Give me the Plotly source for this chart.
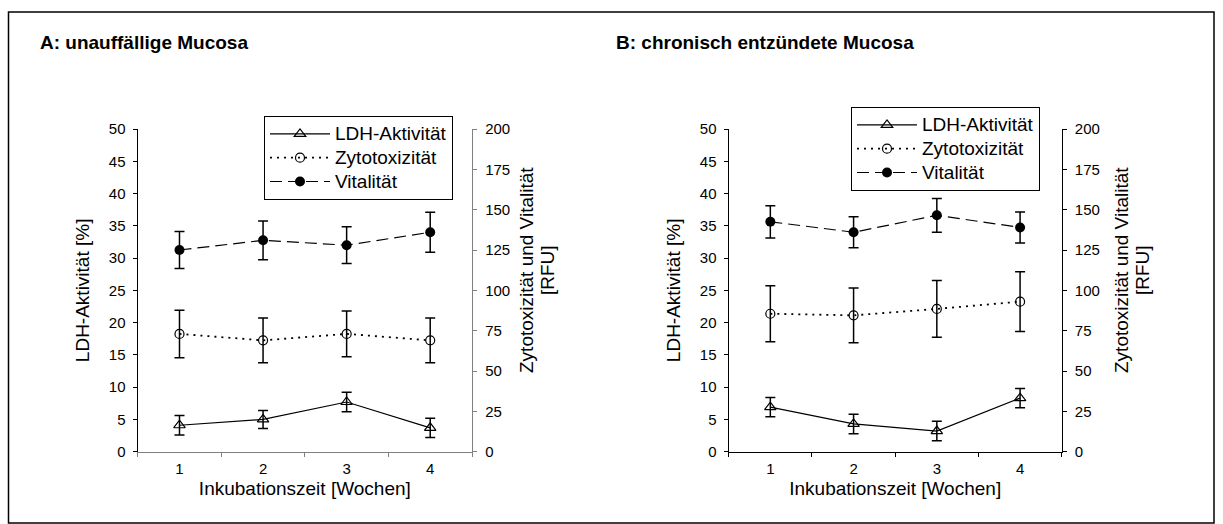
import plotly.graph_objects as go

W, H = 1223, 524

weeks = ["1", "2", "3", "4"]

# Panel A: unauffällige Mucosa
ldh_a = [4.1, 5.0, 7.7, 3.7]
ldh_a_err = [1.5, 1.4, 1.5, 1.5]
zyto_a = [73, 69, 73, 69]
zyto_a_err = [14.7, 13.8, 14.2, 13.8]
vital_a = [125, 131, 128, 136]
vital_a_err = [11.5, 12.0, 11.4, 12.4]

# Panel B: chronisch entzündete Mucosa
ldh_b = [6.9, 4.3, 3.2, 8.3]
ldh_b_err = [1.5, 1.5, 1.5, 1.5]
zyto_b = [85.5, 84.5, 88.5, 93.0]
zyto_b_err = [17.3, 17.0, 17.6, 18.5]
vital_b = [142.5, 136.0, 146.5, 139.0]
vital_b_err = [10.0, 9.6, 10.5, 9.6]

series_names = ["LDH-Aktivität", "Zytotoxizität", "Vitalität"]
x_title = "Inkubationszeit [Wochen]"
y_left_title = "LDH-Aktivität [%]"
y_right_title = ["Zytotoxizität und Vitalität", "[RFU]"]
panel_titles = ["A: unauffällige Mucosa", "B: chronisch entzündete Mucosa"]

FONT = "Liberation Sans, Arial, sans-serif"

def px_x(p):
    return p / W

def px_y(p):
    return 1 - p / H

def leg_name(s):
    return '<span style="font-size:19px">' + s + '</span>'

fig = go.Figure()

def add_panel(xa, yl, yr, leg, ldh, ldh_err, zy, zy_err, vi, vi_err):
    fig.add_trace(go.Scatter(
        x=weeks, y=ldh, xaxis=xa, yaxis=yl, legend=leg, name=leg_name(series_names[0]),
        mode="lines+markers",
        line=dict(color="black", width=1.2, dash="solid"),
        marker=dict(symbol="triangle-up-open", size=10, color="black", line=dict(width=1.2)),
        error_y=dict(type="data", array=ldh_err, visible=True, color="black", thickness=1.5, width=5),
    ))
    fig.add_trace(go.Scatter(
        x=weeks, y=zy, xaxis=xa, yaxis=yr, legend=leg, name=leg_name(series_names[1]),
        mode="lines+markers",
        line=dict(color="black", width=1.8, dash="2px,5px"),
        marker=dict(symbol="circle-open", size=9, color="black", line=dict(width=1.2)),
        error_y=dict(type="data", array=zy_err, visible=True, color="black", thickness=1.5, width=5),
    ))
    fig.add_trace(go.Scatter(
        x=weeks, y=vi, xaxis=xa, yaxis=yr, legend=leg, name=leg_name(series_names[2]),
        mode="lines+markers",
        line=dict(color="black", width=1.2, dash="12px,6px"),
        marker=dict(symbol="circle", size=10, color="black"),
        error_y=dict(type="data", array=vi_err, visible=True, color="black", thickness=1.5, width=5),
    ))

add_panel("x", "y", "y2", "legend", ldh_a, ldh_a_err, zyto_a, zyto_a_err, vital_a, vital_a_err)
add_panel("x2", "y3", "y4", "legend2", ldh_b, ldh_b_err, zyto_b, zyto_b_err, vital_b, vital_b_err)

tickfont = dict(family=FONT, size=15, color="black")
titlefont = dict(family=FONT, size=19, color="black")

def xaxis_cfg(dom, anchor, lc):
    return dict(
        domain=dom, anchor=anchor, type="category", range=[-0.5, 3.5], automargin=False,
        tickson="boundaries", ticks="outside", ticklen=4, tickcolor=lc,
        showline=True, linecolor=lc, linewidth=1.3, showgrid=False, zeroline=False,
        tickfont=tickfont, ticklabelstandoff=3,
        title=dict(text=x_title, font=titlefont, standoff=5),
    )

def yleft_cfg(dom, anchor, lc):
    return dict(
        domain=dom, anchor=anchor, range=[0, 50], dtick=5, tick0=0, automargin=False,
        ticks="outside", ticklen=4, tickcolor=lc, showline=True, linecolor=lc, linewidth=1.3,
        showgrid=False, zeroline=False, tickfont=tickfont, ticklabelstandoff=4,
        title=dict(text=y_left_title, font=titlefont, standoff=14),
    )

def yright_cfg(overlay, anchor, lc):
    return dict(
        overlaying=overlay, anchor=anchor, side="right", range=[0, 200], dtick=25, tick0=0,
        automargin=False,
        ticks="outside", ticklen=4, tickcolor=lc, showline=True, linecolor=lc, linewidth=1.3,
        showgrid=False, zeroline=False, tickfont=tickfont, ticklabelstandoff=5,
    )

ydom = [px_y(451.7), px_y(129)]
grey = "#808080"

legend_common = dict(
    bgcolor="white", bordercolor="black", borderwidth=1,
    font=dict(family=FONT, size=16, color="black"),
    xanchor="left", yanchor="top", itemwidth=60, tracegroupgap=0,
)

def right_title_annots(xc1, xc2):
    out = []
    for txt, xc in zip(y_right_title, [xc1, xc2]):
        out.append(dict(text=txt, x=px_x(xc), y=px_y(270), xref="paper", yref="paper",
                        xanchor="center", yanchor="middle", textangle=-90, showarrow=False,
                        font=dict(family=FONT, size=19, color="black")))
    return out

annots = [
    dict(text="<b>" + panel_titles[0] + "</b>", x=px_x(38), y=px_y(43), xref="paper", yref="paper",
         xanchor="left", yanchor="middle", showarrow=False,
         font=dict(family=FONT, size=19, color="black")),
    dict(text="<b>" + panel_titles[1] + "</b>", x=px_x(614), y=px_y(43), xref="paper", yref="paper",
         xanchor="left", yanchor="middle", showarrow=False,
         font=dict(family=FONT, size=19, color="black")),
] + right_title_annots(526, 547) + right_title_annots(1121, 1142)

fig.update_layout(
    template="none",
    width=W, height=H,
    margin=dict(l=0, r=0, t=0, b=0, autoexpand=False),
    paper_bgcolor="white", plot_bgcolor="white",
    xaxis=xaxis_cfg([px_x(137.7), px_x(472)], "y", grey),
    yaxis=yleft_cfg(ydom, "x", "black"),
    yaxis2=yright_cfg("y", "x", grey),
    xaxis2=xaxis_cfg([px_x(728.7), px_x(1061.7)], "y3", "black"),
    yaxis3=yleft_cfg(ydom, "x2", "black"),
    yaxis4=yright_cfg("y3", "x2", "black"),
    legend=dict(x=px_x(264), y=px_y(116), **legend_common),
    legend2=dict(x=px_x(851), y=px_y(107), **legend_common),
    showlegend=True,
    annotations=annots,
    shapes=[
        dict(type="rect", xref="paper", yref="paper", x0=px_x(8.5), x1=px_x(1214), y0=px_y(523), y1=px_y(12),
             line=dict(color="black", width=1.5), fillcolor="rgba(0,0,0,0)", layer="below"),
    ],
)

fig.write_html("out.html")
